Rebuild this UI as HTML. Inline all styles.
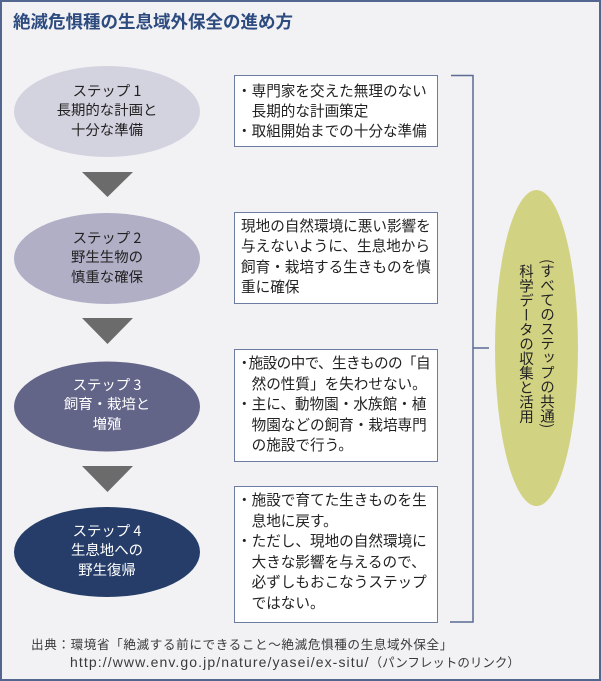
<!DOCTYPE html>
<html><head><meta charset="utf-8">
<style>
html,body{margin:0;padding:0;}
body{width:601px;height:681px;position:relative;overflow:hidden;background:#f2f2f5;font-family:"Liberation Sans","Noto Sans CJK JP",sans-serif;}
svg{position:absolute;left:0;top:0;}
.t{position:absolute;white-space:nowrap;font-family:"Noto Sans CJK JP","Liberation Sans",sans-serif;}
.el{position:absolute;width:186px;text-align:center;font-size:14.4px;line-height:19.3px;}
.bx{position:absolute;font-size:14.6px;line-height:20.4px;color:#222;}
.bx div{white-space:nowrap;}
.ind{padding-left:14.6px;}
</style></head><body>
<svg width="601" height="681" viewBox="0 0 601 681">
  <rect x="1" y="1" width="599" height="679" fill="#f2f2f5" stroke="#52668f" stroke-width="2"/>
  <ellipse cx="107" cy="111.5" rx="93" ry="45.5" fill="#d3d2df"/>
  <ellipse cx="107" cy="258.5" rx="93" ry="45.5" fill="#b0afc6"/>
  <ellipse cx="107" cy="406.5" rx="93" ry="45" fill="#626488"/>
  <ellipse cx="107" cy="552" rx="93" ry="45" fill="#253d68"/>
  <polygon points="82,172 133,172 107.5,197" fill="#6b6b6b"/>
  <polygon points="82,318 133,318 107.5,344" fill="#6b6b6b"/>
  <polygon points="82,466 133,466 107.5,492" fill="#6b6b6b"/>
  <rect x="234.5" y="75.5" width="203" height="71" fill="#fff" stroke="#6c7ca3" stroke-width="1"/>
  <rect x="234.5" y="212.5" width="203" height="91" fill="#fff" stroke="#6c7ca3" stroke-width="1"/>
  <rect x="234.5" y="349.5" width="203" height="112" fill="#fff" stroke="#6c7ca3" stroke-width="1"/>
  <rect x="234.5" y="486.5" width="203" height="136" fill="#fff" stroke="#6c7ca3" stroke-width="1"/>
  <polyline points="451,75.5 473,75.5 473,622 450,622" fill="none" stroke="#5b6b94" stroke-width="1.5"/>
  <line x1="473" y1="348" x2="489" y2="348" stroke="#5b6b94" stroke-width="1.5"/>
  <ellipse cx="536.5" cy="348" rx="41.5" ry="158" fill="#d2d283"/>
</svg>

<div class="t" style="left:13px;top:9px;font-size:17.5px;line-height:26px;font-weight:bold;color:#2d4b7f;">絶滅危惧種の生息域外保全の進め方</div>

<div class="t el" style="left:14px;top:81px;color:#222;">ステップ 1<br>長期的な計画と<br>十分な準備</div>
<div class="t el" style="left:14px;top:228px;color:#222;">ステップ 2<br>野生生物の<br>慎重な確保</div>
<div class="t el" style="left:14px;top:375px;color:#fff;">ステップ 3<br>飼育・栽培と<br>増殖</div>
<div class="t el" style="left:14px;top:521px;color:#fff;">ステップ 4<br>生息地への<br>野生復帰</div>

<div class="t bx" style="left:237px;top:81px;line-height:20px;">
<div>・専門家を交えた無理のない</div>
<div class="ind">長期的な計画策定</div>
<div>・取組開始までの十分な準備</div>
</div>

<div class="t bx" style="left:241px;top:216px;">
<div>現地の自然環境に悪い影響を</div>
<div>与えないように、生息地から</div>
<div>飼育・栽培する生きものを慎</div>
<div>重に確保</div>
</div>

<div class="t bx" style="left:237px;top:353px;line-height:20.6px;">
<div><span style="margin-right:-3px;">・</span><span style="letter-spacing:-0.6px;">施設の中で、生きものの「自</span></div>
<div class="ind">然の性質」を失わせない。</div>
<div>・主に、動物園・水族館・植</div>
<div class="ind">物園などの飼育・栽培専門</div>
<div class="ind">の施設で行う。</div>
</div>

<div class="t bx" style="left:237px;top:490px;line-height:20.6px;">
<div>・施設で育てた生きものを生</div>
<div class="ind">息地に戻す。</div>
<div>・ただし、現地の自然環境に</div>
<div class="ind">大きな影響を与えるので、</div>
<div class="ind">必ずしもおこなうステップ</div>
<div class="ind">ではない。</div>
</div>

<div class="t" style="left:515px;top:188px;width:43px;height:312px;writing-mode:vertical-rl;text-orientation:mixed;text-align:center;font-size:14.5px;line-height:21px;color:#222;">(すべてのステップの共通)<br>科学データの収集と活用</div>

<div class="t" style="left:31px;top:635px;font-size:12.6px;line-height:17px;letter-spacing:0.6px;color:#3a3a3a;">出典：環境省「絶滅する前にできること～絶滅危惧種の生息域外保全」</div>
<div class="t" style="left:70px;top:653px;font-size:12.5px;line-height:17px;color:#3a3a3a;"><span style="font-family:'Liberation Sans',sans-serif;font-size:14px;letter-spacing:1.1px;">http://www.env.go.jp/nature/yasei/ex-situ/</span>（パンフレットのリンク）</div>
</body></html>
